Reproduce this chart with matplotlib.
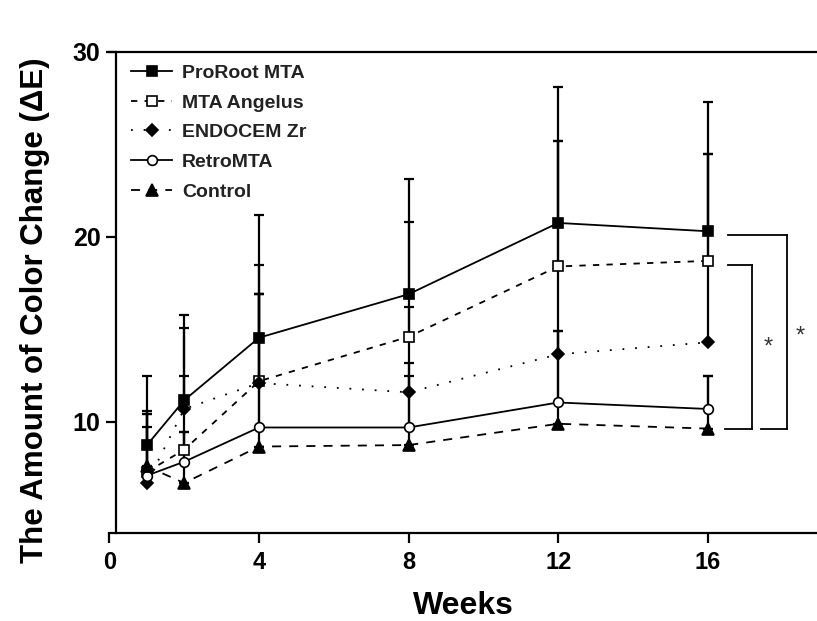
import matplotlib
matplotlib.use("Agg")
import matplotlib.pyplot as plt
import numpy as np

plt.rcParams['font.family'] = ['Liberation Sans', 'DejaVu Sans']

weeks = [1, 2, 4, 8, 12, 16]
series_names = ["ProRoot MTA", "MTA Angelus", "ENDOCEM Zr", "RetroMTA", "Control"]
proroot = [8.74, 11.17, 14.55, 16.9, 20.75, 20.3]
proroot_top = [12.5, 15.8, 21.2, 23.1, 28.1, 27.3]
angelus = [7.3, 8.5, 12.2, 14.6, 18.4, 18.7]
angelus_top = [10.6, 12.5, 18.46, 20.8, 25.2, 24.5]
endocem = [6.7, 10.7, 12.1, 11.6, 13.65, 14.3]
endocem_top = [10.45, 15.05, 16.9, 16.2, 25.2, 24.5]
retro = [7.1, 7.85, 9.7, 9.7, 11.05, 10.7]
retro_top = [9.7, 9.46, 16.9, 13.2, 14.9, 12.5]
control = [7.6, 6.7, 8.67, 8.75, 9.9, 9.64]
control_top = [10.45, 9.46, 16.9, 12.5, 14.9, 12.5]

xticks = [0, 4, 8, 12, 16]
yticks = [10, 20, 30]

fig = plt.figure(figsize=(8.17, 6.21), dpi=100)
ax = fig.add_axes([109.4 / 817, 1 - 533 / 621, (817 - 109.4) / 817, (533 - 51.7) / 621])

styles = [
    dict(ls='-', marker='s', mfc='black', mec='black', ms=7),
    dict(ls=(0, (3.5, 4)), marker='s', mfc='white', mec='black', ms=7),
    dict(ls=(0, (1, 6)), marker='D', mfc='black', mec='black', ms=6.5),
    dict(ls='-', marker='o', mfc='white', mec='black', ms=7),
    dict(ls=(0, (5, 4.5)), marker='^', mfc='black', mec='black', ms=8),
]
means = [proroot, angelus, endocem, retro, control]
tops = [proroot_top, angelus_top, endocem_top, retro_top, control_top]

handles = []
for name, m, t, st in zip(series_names, means, tops, styles):
    m = np.array(m)
    t = np.array(t)
    up = t - m
    ax.errorbar(weeks, m, yerr=[np.zeros_like(up), up], fmt='none', ecolor='black',
                elinewidth=1.6, capsize=3.6, capthick=1.6, zorder=2)
    h, = ax.plot(weeks, m, color='black', lw=1.3, linestyle=st['ls'], marker=st['marker'],
                 mfc=st['mfc'], mec=st['mec'], ms=st['ms'], mew=1.2, label=name, zorder=3)
    handles.append(h)

# significance brackets
bk = dict(color='black', lw=1.3, clip_on=False, zorder=4)
ax.plot([16.53, 18.13], [20.08, 20.08], **bk)
ax.plot([18.13, 18.13], [20.08, 9.6], **bk)
ax.plot([17.42, 18.13], [9.6, 9.6], **bk)
ax.plot([16.53, 17.18], [18.5, 18.5], **bk)
ax.plot([17.18, 17.18], [18.5, 9.6], **bk)
ax.plot([16.46, 17.18], [9.6, 9.6], **bk)
ax.text(17.61, 14.0, '*', fontsize=17, color='#333333', ha='center', va='center')
ax.text(18.48, 14.6, '*', fontsize=17, color='#333333', ha='center', va='center')

ax.set_xlim(0, 18.92)
ax.set_ylim(4, 30)
ax.set_xticks(xticks)
ax.set_yticks(yticks)
ax.spines['left'].set_position(('data', 0.17))
ax.spines['right'].set_visible(False)
for s in ['left', 'bottom', 'top']:
    ax.spines[s].set_linewidth(1.6)
ax.tick_params(axis='both', length=7, width=1.6, direction='out')
ax.tick_params(axis='x', labelsize=17, pad=6)
ax.tick_params(axis='y', labelsize=18, pad=4)
for lab in ax.get_xticklabels():
    lab.set_fontweight('bold')
for lab in ax.get_yticklabels():
    lab.set_fontweight('bold')

ax.set_xlabel('Weeks', fontsize=23, fontweight='bold', labelpad=12)
ax.set_ylabel('The Amount of Color Change (\u0394E)', fontsize=22.5, fontweight='bold')
ax.yaxis.set_label_coords(-(109.4 - 50) / (817 - 109.4), (533 - 310) / (533 - 51.7))

leg = ax.legend(handles=handles, loc='upper left', bbox_to_anchor=(0.02, 0.99),
                frameon=False, fontsize=14, handlelength=2.1, handletextpad=0.5,
                labelspacing=0.62, borderaxespad=0)
for t in leg.get_texts():
    t.set_fontweight('bold')
    t.set_color('#222222')

fig.savefig('out.png', dpi=100)
